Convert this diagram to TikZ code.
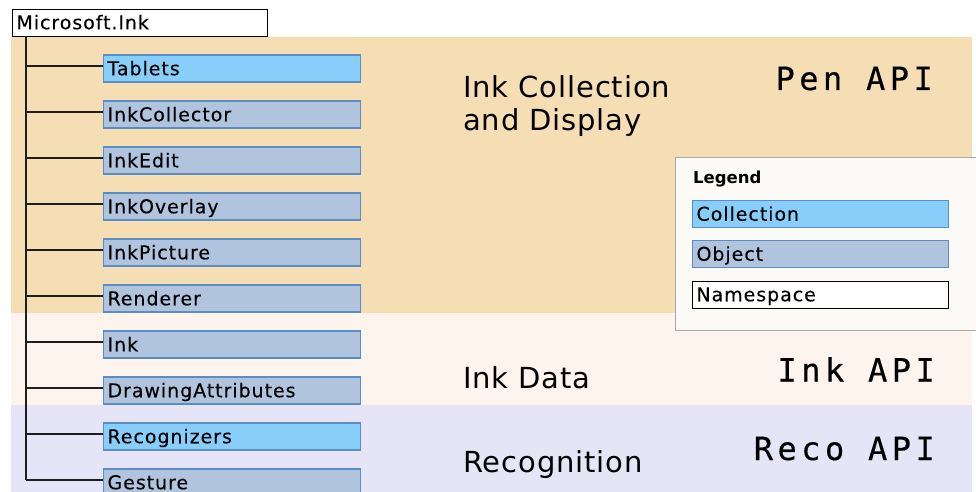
\documentclass[tikz,border=0pt]{standalone}
\usepackage{fontspec}
\newfontfamily\boxfont[LetterSpace=5,FakeBold=0.2]{DejaVu Sans}
\newfontfamily\bandfont[LetterSpace=3]{DejaVu Sans}
\newfontfamily\legendfont{DejaVu Sans}
\newfontfamily\apifont[LetterSpace=14,FakeBold=0.4]{DejaVu Sans Mono}

\definecolor{penband}{RGB}{245,222,179}
\definecolor{inkband}{RGB}{253,244,237}
\definecolor{recoband}{RGB}{229,229,247}
\definecolor{collfill}{RGB}{135,206,250}
\definecolor{objfill}{RGB}{176,196,222}
\definecolor{boxedge}{RGB}{91,141,196}
\definecolor{legendfill}{RGB}{251,250,247}
\definecolor{legendedge}{RGB}{168,168,168}
\definecolor{treeline}{RGB}{30,30,30}

\tikzset{
  classbox/.style={draw=boxedge, line width=1.1pt, anchor=west,
    minimum height=27pt, text width=249pt, inner xsep=4pt, inner ysep=0pt,
    text height=13.5pt, text depth=0pt, align=left,
    font=\boxfont\fontsize{19}{22}\selectfont},
  collbox/.style={classbox, fill=collfill},
  objbox/.style={classbox, fill=objfill},
  nsbox/.style={classbox, draw=black, fill=white, line width=0.9pt},
  bandlabel/.style={anchor=base west, inner sep=0pt,
    font=\bandfont\fontsize{29}{32}\selectfont},
  apilabel/.style={anchor=base east, inner sep=0pt,
    font=\apifont\fontsize{32}{35}\selectfont},
  branch/.style={draw=treeline, line width=1.4pt}
}

\begin{document}
\begin{tikzpicture}[x=1pt,y=-1pt]
\useasboundingbox (0,0) rectangle (976,492);
\fill[white] (0,0) rectangle (976,492);

% API bands
\fill[penband]  (11,37.5) rectangle (972,313);
\fill[inkband]  (11,313)  rectangle (972,405);
\fill[recoband] (11,405)  rectangle (972,492);

% namespace root
\node[nsbox, text width=247pt, inner xsep=4pt] (root) at (12,22.5) {Microsoft.Ink};

% members of the namespace
\node[collbox] (tablets)   at (103,68.5)  {Tablets};
\node[objbox]  (collector) at (103,114.5) {InkCollector};
\node[objbox]  (edit)      at (103,160.5) {InkEdit};
\node[objbox]  (overlay)   at (103,206.5) {InkOverlay};
\node[objbox]  (picture)   at (103,252.5) {InkPicture};
\node[objbox]  (renderer)  at (103,298.5) {Renderer};
\node[objbox]  (ink)       at (103,344.5) {Ink};
\node[objbox]  (drawattr)  at (103,390.5) {DrawingAttributes};
\node[collbox] (recos)     at (103,436.5) {Recognizers};
\node[objbox]  (gesture)   at (103,482.5) {Gesture};

% tree connectors
\coordinate (trunk) at ([xshift=14pt]root.south west);
\foreach \b in {tablets,collector,edit,overlay,picture,renderer,ink,drawattr,recos,gesture}{
  \path ([yshift=2.5pt]\b.west) coordinate (\b-tip);
  \draw[branch] (trunk |- \b-tip) -- (\b-tip);
}
\draw[branch] (trunk) -- (trunk |- gesture-tip);

% band captions
\node[bandlabel] (collA) at (463,97.7) {Ink Collection};
\node[bandlabel] (collB) at (463,130)  {and Display};
\node[bandlabel] (data)  at (463,388)  {Ink Data};
\node[bandlabel] (reco)  at (463,472)  {Recognition};

\node[apilabel] (penapi)  at (933,90)    {Pen API};
\node[apilabel] (inkapi)  at (935,381.5) {Ink API};
\node[apilabel] (recoapi) at (935,460)   {Reco API};

% legend
\node[draw=legendedge, fill=legendfill, line width=0.8pt, anchor=north west,
      minimum width=310pt, minimum height=173pt, inner sep=0pt] (legend) at (675,157) {};
\node[anchor=base west, inner sep=0pt,
      font=\legendfont\bfseries\fontsize{16.5}{19}\selectfont] (legendtitle) at (693,183) {Legend};
\node[collbox, text width=248pt] (lcoll) at (692,214)   {Collection};
\node[objbox,  text width=248pt] (lobj)  at (692,254)   {Object};
\node[nsbox,   text width=248pt] (lns)   at (692,294.5) {Namespace};
\end{tikzpicture}
\end{document}
